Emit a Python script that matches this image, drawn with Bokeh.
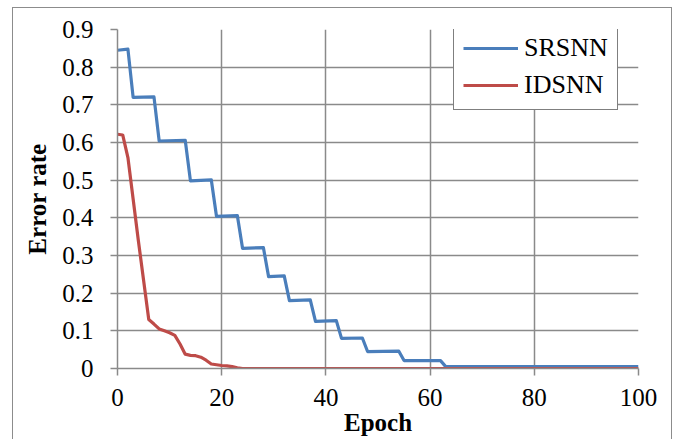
from bokeh.plotting import figure
from bokeh.models import Range1d, FixedTicker, Legend, LegendItem
from bokeh.embed import file_html
from bokeh.resources import INLINE

# Data
srsnn_epoch = [0, 2, 3, 7, 8, 13, 14, 18, 19, 23, 24, 28, 29, 32, 33, 37, 38, 42, 43, 47, 48, 54, 55, 62, 63, 100]
srsnn_error = [0.845, 0.848, 0.72, 0.721, 0.604, 0.606, 0.498, 0.501, 0.404, 0.406, 0.319, 0.321, 0.244, 0.246, 0.18, 0.182, 0.125, 0.127, 0.08, 0.081, 0.045, 0.046, 0.021, 0.021, 0.005, 0.005]

idsnn_epoch = [0, 1, 2, 3, 4, 5, 6, 7, 8, 9, 10, 11, 12, 13, 14, 15, 16, 17, 18, 19, 20, 21, 22, 23, 24, 100]
idsnn_error = [0.622, 0.62, 0.56, 0.45, 0.34, 0.235, 0.13, 0.118, 0.105, 0.1, 0.095, 0.088, 0.065, 0.038, 0.035, 0.034, 0.03, 0.022, 0.012, 0.01, 0.008, 0.007, 0.005, 0.002, 0.0, 0.0]

x_ticks = [0, 20, 40, 60, 80, 100]
y_ticks = [0, 0.1, 0.2, 0.3, 0.4, 0.5, 0.6, 0.7, 0.8, 0.9]
y_tick_labels = ["0", "0.1", "0.2", "0.3", "0.4", "0.5", "0.6", "0.7", "0.8", "0.9"]

FONT = "'Liberation Serif', 'Times New Roman', serif"
GRID = "#8a8a8a"

p = figure(width=660, height=432, output_backend="svg", toolbar_location=None,
           x_range=Range1d(0, 100), y_range=Range1d(0, 0.9),
           min_border_left=104, min_border_right=35, min_border_top=21, min_border_bottom=72)
p.styles = {"margin-left": "12px", "margin-top": "7px",
            "border-left": "1px solid #8c8c8c", "border-top": "1px solid #8c8c8c",
            "border-right": "1px solid #8c8c8c"}
p.outline_line_color = None
p.background_fill_color = "white"
p.border_fill_color = "white"

r1 = p.line(srsnn_epoch, srsnn_error, line_color="#4a7ebb", line_width=3.2, line_join="round")
r2 = p.line(idsnn_epoch, idsnn_error, line_color="#be4b48", line_width=3.2, line_join="round")

for ax in (p.xaxis[0], p.yaxis[0]):
    ax.axis_line_color = GRID
    ax.axis_line_width = 1.5
    ax.major_tick_line_color = GRID
    ax.major_tick_line_width = 1.5
    ax.major_tick_out = 7
    ax.major_tick_in = 0
    ax.minor_tick_line_color = None
    ax.major_label_text_font = FONT
    ax.major_label_text_font_size = "25px"
    ax.major_label_text_color = "black"
    ax.axis_label_text_font = FONT
    ax.axis_label_text_font_size = "25px"
    ax.axis_label_text_font_style = "bold"
    ax.axis_label_text_color = "black"

p.xaxis[0].ticker = FixedTicker(ticks=x_ticks)
p.yaxis[0].ticker = FixedTicker(ticks=y_ticks)
p.yaxis[0].major_label_overrides = {t: l for t, l in zip(y_ticks, y_tick_labels)}
p.xaxis[0].axis_label = "Epoch"
p.yaxis[0].axis_label = "Error rate"
p.xaxis[0].major_label_standoff = 13
p.xaxis[0].axis_label_standoff = 0
p.yaxis[0].major_label_standoff = 17
p.yaxis[0].axis_label_standoff = 8

p.xgrid[0].ticker = FixedTicker(ticks=x_ticks)
p.ygrid[0].ticker = FixedTicker(ticks=y_ticks)
for g in (p.xgrid[0], p.ygrid[0]):
    g.grid_line_color = GRID
    g.grid_line_width = 1.5

legend = Legend(items=[LegendItem(label="SRSNN", renderers=[r1]),
                       LegendItem(label="IDSNN", renderers=[r2])],
                location=(336, 258))
legend.label_text_font = FONT
legend.label_text_font_size = "26px"
legend.label_text_color = "black"
legend.glyph_width = 55
legend.glyph_height = 28
legend.label_height = 28
legend.label_standoff = 6
legend.spacing = 7
legend.padding = 9
legend.border_line_color = "black"
legend.border_line_width = 1.5
legend.background_fill_color = "white"
legend.background_fill_alpha = 1.0
p.add_layout(legend, "center")

open("out.html", "w").write(file_html(p, INLINE))
